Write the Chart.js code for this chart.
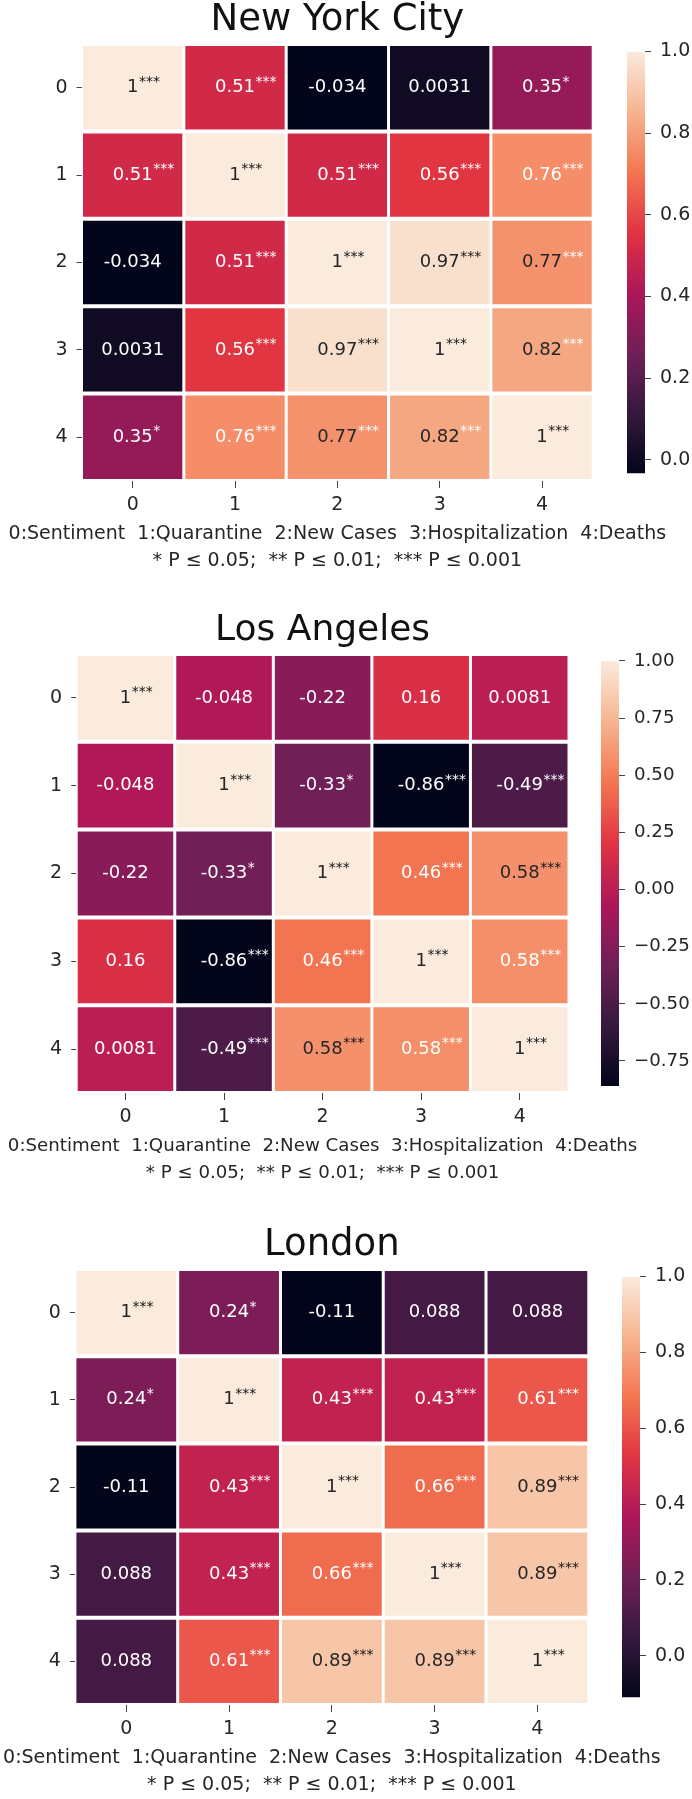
<!DOCTYPE html>
<html>
<head>
<meta charset="utf-8">
<title>Correlation heatmaps - NYC / LA / London</title>
<script src="https://cdn.jsdelivr.net/npm/chart.js@4.4.1/dist/chart.umd.min.js"></script>
<style>
  html, body { margin: 0; padding: 0; background: #fff; }
  body { width: 692px; height: 1799px; position: relative; overflow: hidden; }
  canvas { position: absolute; }
</style>
</head>
<body>
<script>
// ---- data ----
const ROW_LABELS = ['0', '1', '2', '3', '4'];
const COL_LABELS = ['0', '1', '2', '3', '4'];
const VAR_LEGEND = '0:Sentiment  1:Quarantine  2:New Cases  3:Hospitalization  4:Deaths';
const P_LEGEND = '* P \u2264 0.05;  ** P \u2264 0.01;  *** P \u2264 0.001';

const NYC_VALUES = [
    [1, 0.51, -0.034, 0.0031, 0.35],
    [0.51, 1, 0.51, 0.56, 0.76],
    [-0.034, 0.51, 1, 0.97, 0.77],
    [0.0031, 0.56, 0.97, 1, 0.82],
    [0.35, 0.76, 0.77, 0.82, 1]
];
const NYC_STARS = [
    ['***', '***', '', '', '*'],
    ['***', '***', '***', '***', '***'],
    ['', '***', '***', '***', '***'],
    ['', '***', '***', '***', '***'],
    ['*', '***', '***', '***', '***']
];

const LA_VALUES = [
    [1, -0.048, -0.22, 0.16, 0.0081],
    [-0.048, 1, -0.33, -0.86, -0.49],
    [-0.22, -0.33, 1, 0.46, 0.583],
    [0.16, -0.86, 0.46, 1, 0.577],
    [0.0081, -0.49, 0.583, 0.577, 1]
];
const LA_STARS = [
    ['***', '', '', '', ''],
    ['', '***', '*', '***', '***'],
    ['', '*', '***', '***', '***'],
    ['', '***', '***', '***', '***'],
    ['', '***', '***', '***', '***']
];

const LONDON_VALUES = [
    [1, 0.24, -0.11, 0.088, 0.088],
    [0.24, 1, 0.43, 0.43, 0.61],
    [-0.11, 0.43, 1, 0.66, 0.89],
    [0.088, 0.43, 0.66, 1, 0.89],
    [0.088, 0.61, 0.89, 0.89, 1]
];
const LONDON_STARS = [
    ['***', '*', '', '', ''],
    ['*', '***', '***', '***', '***'],
    ['', '***', '***', '***', '***'],
    ['', '***', '***', '***', '***'],
    ['', '***', '***', '***', '***']
];

const CBAR_TICKS_01 = [0, 0.2, 0.4, 0.6, 0.8, 1.0];
const CBAR_LABELS_01 = ['0.0', '0.2', '0.4', '0.6', '0.8', '1.0'];
const CBAR_TICKS_LA = [-0.75, -0.5, -0.25, 0, 0.25, 0.5, 0.75, 1.0];
const CBAR_LABELS_LA = ['\u22120.75', '\u22120.50', '\u22120.25', '0.00', '0.25', '0.50', '0.75', '1.00'];

// ---- styling ----
const FONT = "'DejaVu Sans', 'Liberation Sans', sans-serif";
const DARK = '#262626';
const TICK_COLOR = '#444';

// seaborn "rocket" colormap, sampled
const ROCKET = [
    [0.000, [3, 5, 26]],
    [0.143, [53, 25, 62]],
    [0.286, [112, 31, 87]],
    [0.429, [173, 23, 89]],
    [0.571, [225, 51, 66]],
    [0.714, [243, 118, 81]],
    [0.857, [246, 180, 143]],
    [1.000, [250, 235, 221]]
];

function rocket(t) {
    t = Math.max(0, Math.min(1, t));
    for (let i = 1; i < ROCKET.length; i++) {
        if (t <= ROCKET[i][0]) {
            const [p0, c0] = ROCKET[i - 1];
            const [p1, c1] = ROCKET[i];
            const f = (t - p0) / (p1 - p0);
            const c = c0.map((v, k) => Math.round(v + (c1[k] - v) * f));
            return 'rgb(' + c.join(',') + ')';
        }
    }
    return 'rgb(250,235,221)';
}

// seaborn's default ".2g" formatting
function fmt(v) {
    return Number(v.toPrecision(2)).toString();
}

const PANELS = [
    {
        title: 'New York City', titleSize: 37, captionSize: 19,
        values: NYC_VALUES, stars: NYC_STARS, starDarkAbove: 0.9,
        cbTicks: CBAR_TICKS_01, cbLabels: CBAR_LABELS_01,
        box: { l: 83, r: 591.7, t: 46, b: 479 }, cbLeft: 627
    },
    {
        title: 'Los Angeles', titleSize: 36, captionSize: 18.2,
        values: LA_VALUES, stars: LA_STARS, starDarkAbove: 0.774,
        cbTicks: CBAR_TICKS_LA, cbLabels: CBAR_LABELS_LA,
        box: { l: 77.7, r: 567.5, t: 656, b: 1091 }, cbLeft: 601
    },
    {
        title: 'London', titleSize: 37, captionSize: 19,
        values: LONDON_VALUES, stars: LONDON_STARS, starDarkAbove: 0.774,
        cbTicks: CBAR_TICKS_01, cbLabels: CBAR_LABELS_01,
        box: { l: 76.4, r: 587.3, t: 1271, b: 1703 }, cbLeft: 622
    }
];

Chart.defaults.font.family = FONT;
Chart.defaults.color = DARK;

function addCanvas(left, top, width, height) {
    const c = document.createElement('canvas');
    c.width = Math.round(width);
    c.height = Math.round(height);
    c.style.left = left + 'px';
    c.style.top = top + 'px';
    document.body.appendChild(c);
    return c;
}

function makeCellText(panel, vmin, vmax) {
    return {
        id: 'cellText',
        afterDatasetsDraw(chart) {
            const ctx = chart.ctx;
            ctx.save();
            chart.data.datasets.forEach(function(ds, r) {
                chart.getDatasetMeta(r).data.forEach(function(bar, c) {
                    const p = bar.getCenterPoint();
                    const v = panel.values[r][c];
                    const t = (v - vmin) / (vmax - vmin);
                    const txt = fmt(v);
                    ctx.font = '18px ' + FONT;
                    ctx.textAlign = 'center';
                    ctx.textBaseline = 'middle';
                    ctx.fillStyle = t > 0.774 ? DARK : '#ffffff';
                    ctx.fillText(txt, p.x, p.y);
                    const s = panel.stars[r][c];
                    if (s) {
                        const w = ctx.measureText(txt).width;
                        ctx.font = '14px ' + FONT;
                        ctx.textAlign = 'left';
                        ctx.textBaseline = 'alphabetic';
                        ctx.fillStyle = t > panel.starDarkAbove ? '#111' : '#ffffff';
                        ctx.fillText(s, p.x + w / 2 + 0.5, p.y - 2);
                    }
                });
            });
            ctx.restore();
        }
    };
}

function makeCaption(panel) {
    return {
        id: 'caption',
        afterDraw(chart) {
            const ctx = chart.ctx;
            const a = chart.chartArea;
            const cx = (a.left + a.right) / 2;
            ctx.save();
            ctx.font = panel.captionSize + 'px ' + FONT;
            ctx.fillStyle = DARK;
            ctx.textAlign = 'center';
            ctx.textBaseline = 'middle';
            ctx.fillText(VAR_LEGEND, cx, a.bottom + 53);
            ctx.fillText(P_LEGEND, cx, a.bottom + 80);
            ctx.restore();
        }
    };
}

function drawPanel(panel) {
    const flat = panel.values.flat();
    const vmin = Math.min.apply(null, flat);
    const vmax = Math.max.apply(null, flat);

    // heatmap: floating bars, one dataset per row
    const areaL = panel.box.l - 1.5, areaR = panel.box.r + 1.5;
    const areaT = panel.box.t - 2, areaB = panel.box.b + 2;
    const top = areaT - 50;
    const padBottomTitle = 23.3 - panel.titleSize / 2;
    const padTopTitle = 50 - panel.titleSize - padBottomTitle;
    const canvas = addCanvas(0, top, 692, areaB - top + 100);

    const datasets = panel.values.map(function(row, r) {
        return {
            label: ROW_LABELS[r],
            data: row.map(function() { return [r, r + 1]; }),
            backgroundColor: row.map(function(v) { return rocket((v - vmin) / (vmax - vmin)); }),
            borderColor: '#ffffff',
            borderWidth: { top: 2, bottom: 2, left: 1.5, right: 1.5 },
            borderSkipped: false,
            inflateAmount: 0,
            barPercentage: 1,
            categoryPercentage: 1,
            grouped: false
        };
    });

    new Chart(canvas.getContext('2d'), {
        type: 'bar',
        data: { labels: COL_LABELS, datasets: datasets },
        options: {
            responsive: false,
            animation: false,
            events: [],
            layout: { padding: { left: areaL - 40, right: 692 - areaR, top: 0, bottom: 60 } },
            plugins: {
                legend: { display: false },
                tooltip: { enabled: false },
                title: {
                    display: true,
                    text: panel.title,
                    fullSize: false,
                    color: '#111',
                    font: { size: panel.titleSize, weight: 'normal', lineHeight: 1 },
                    padding: { top: padTopTitle, bottom: padBottomTitle }
                }
            },
            scales: {
                x: {
                    type: 'category',
                    offset: true,
                    grid: { offset: false, drawOnChartArea: false, tickLength: 7, color: TICK_COLOR },
                    border: { display: false },
                    ticks: { font: { size: 19 }, padding: 5.6, color: DARK, maxRotation: 0 },
                    afterFit: function(scale) { scale.height = 40; }
                },
                y: {
                    type: 'linear',
                    min: 0,
                    max: 5,
                    reverse: true,
                    grid: { drawOnChartArea: false, tickLength: 5, color: TICK_COLOR },
                    border: { display: false },
                    ticks: {
                        autoSkip: false,
                        font: { size: 19 },
                        padding: 9,
                        color: DARK,
                        callback: function(v) { return ROW_LABELS[Math.floor(v)]; }
                    },
                    afterBuildTicks: function(scale) {
                        scale.ticks = ROW_LABELS.map(function(_, i) { return { value: i + 0.5 }; });
                    },
                    afterFit: function(scale) { scale.width = 40; }
                }
            }
        },
        plugins: [makeCellText(panel, vmin, vmax), makeCaption(panel)]
    });

    // colorbar: a single floating bar filled with the colormap
    const cbW = 692 - panel.cbLeft;
    const cbCanvas = addCanvas(panel.cbLeft, panel.box.t - 15, cbW, panel.box.b - panel.box.t + 30);
    new Chart(cbCanvas.getContext('2d'), {
        type: 'bar',
        data: {
            labels: [''],
            datasets: [{
                data: [[vmin, vmax]],
                borderWidth: 0,
                inflateAmount: 0,
                barPercentage: 1,
                categoryPercentage: 1,
                backgroundColor: function(context) {
                    const chart = context.chart;
                    if (!chart.chartArea) return 'transparent';
                    const y = chart.scales.y;
                    const g = chart.ctx.createLinearGradient(0, y.getPixelForValue(vmin), 0, y.getPixelForValue(vmax));
                    ROCKET.forEach(function(stop) { g.addColorStop(stop[0], 'rgb(' + stop[1].join(',') + ')'); });
                    return g;
                }
            }]
        },
        options: {
            responsive: false,
            animation: false,
            events: [],
            layout: { padding: { left: 0, right: 0, top: 15, bottom: 15 } },
            plugins: { legend: { display: false }, tooltip: { enabled: false } },
            scales: {
                x: { type: 'category', display: false, offset: true },
                y: {
                    type: 'linear',
                    position: 'right',
                    min: vmin,
                    max: vmax,
                    grid: { drawOnChartArea: false, tickLength: 6, color: TICK_COLOR },
                    border: { display: false },
                    ticks: {
                        autoSkip: false,
                        font: { size: panel.captionSize },
                        padding: 9,
                        color: DARK,
                        callback: function(v, i) { return panel.cbLabels[i]; }
                    },
                    afterBuildTicks: function(scale) {
                        scale.ticks = panel.cbTicks.map(function(v) { return { value: v }; });
                    },
                    afterFit: function(scale) { scale.width = cbW - 18; }
                }
            }
        }
    });
}

PANELS.forEach(drawPanel);
</script>
</body>
</html>
